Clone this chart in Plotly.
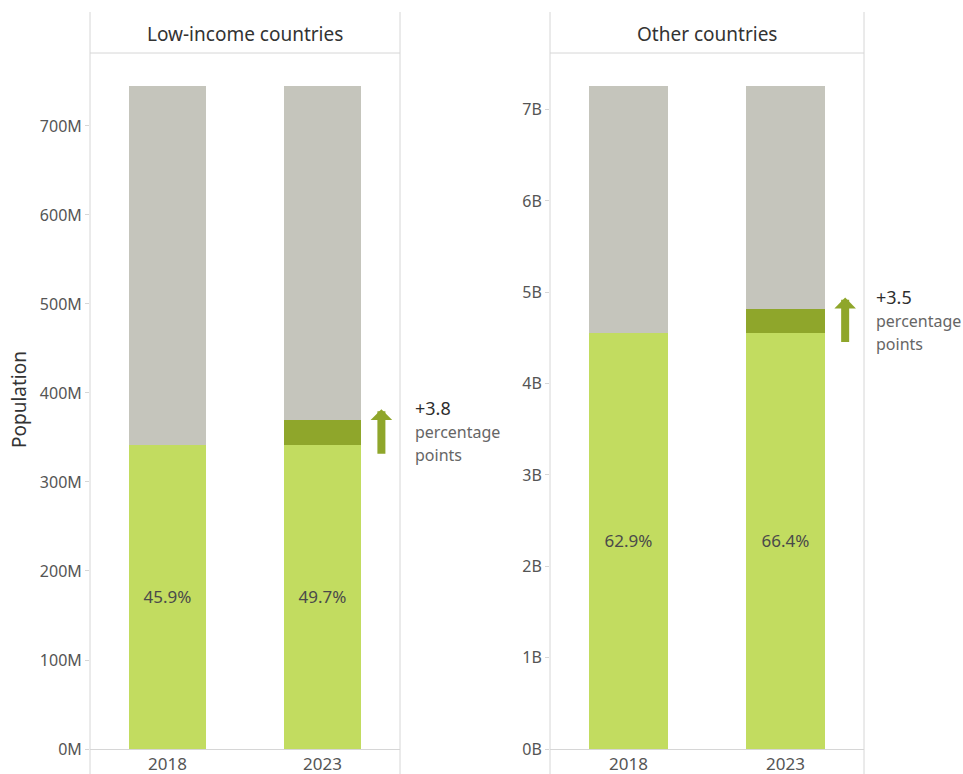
import plotly.graph_objects as go

W, H = 963, 774

years = ["2018", "2023"]
panels = ["Low-income countries", "Other countries"]

# Low-income countries (millions)
low_light = [342, 342]
low_dark = [0, 28]
low_grey = [403, 375]
low_pct = ["45.9%", "49.7%"]

# Other countries (billions)
oth_light = [4.56, 4.56]
oth_dark = [0, 0.26]
oth_grey = [2.70, 2.44]
oth_pct = ["62.9%", "66.4%"]

changes = ["+3.8", "+3.5"]

low_ticks = [0, 100, 200, 300, 400, 500, 600, 700]
low_ticktext = ["0M", "100M", "200M", "300M", "400M", "500M", "600M", "700M"]
oth_ticks = [0, 1, 2, 3, 4, 5, 6, 7]
oth_ticktext = ["0B", "1B", "2B", "3B", "4B", "5B", "6B", "7B"]

C_LIGHT = "#c2dc60"
C_DARK = "#8fa62b"
C_GREY = "#c5c5bc"
C_LINE = "#d6d6d6"
FONT = "Noto Sans"

fig = go.Figure()

def add_panel(light, dark, grey, pct, xa, ya):
    fig.add_trace(go.Bar(x=years, y=light, marker_color=C_LIGHT, marker_line_width=0, text=pct,
                         textposition="inside", insidetextanchor="middle",
                         textangle=0, constraintext="none",
                         textfont=dict(size=17, color="#4a4a4a", family=FONT),
                         xaxis=xa, yaxis=ya, hoverinfo="skip", showlegend=False))
    fig.add_trace(go.Bar(x=years, y=dark, marker_color=C_DARK, marker_line_width=0,
                         xaxis=xa, yaxis=ya, hoverinfo="skip", showlegend=False))
    fig.add_trace(go.Bar(x=years, y=grey, marker_color=C_GREY, marker_line_width=0,
                         xaxis=xa, yaxis=ya, hoverinfo="skip", showlegend=False))

add_panel(low_light, low_dark, low_grey, low_pct, "x", "y")
add_panel(oth_light, oth_dark, oth_grey, oth_pct, "x2", "y2")

def px(v):
    return v / W

def py(v):
    return (H - v) / H

ydom = [py(749), py(53)]
axis_common = dict(showgrid=False, zeroline=False, fixedrange=True, automargin=False)

fig.update_layout(
    template="none",
    width=W, height=H,
    margin=dict(l=0, r=0, t=0, b=0, pad=0),
    paper_bgcolor="white", plot_bgcolor="white",
    barmode="stack", bargap=0.5,
    font=dict(family=FONT, color="#555"),
    xaxis=dict(type="category", domain=[px(90), px(400)], anchor="y", showline=True, linecolor=C_LINE,
               linewidth=1, ticks="", tickfont=dict(size=17, color="#555"),
               range=[-0.5, 1.5], **axis_common),
    xaxis2=dict(type="category", domain=[px(550), px(864)], anchor="y2", showline=True, linecolor=C_LINE,
                linewidth=1, ticks="", tickfont=dict(size=17, color="#555"),
                range=[-0.5, 1.5], **axis_common),
    yaxis=dict(domain=ydom, anchor="x", range=[0, 782], tickvals=low_ticks, ticktext=low_ticktext,
               ticks="outside", ticklen=4, tickcolor=C_LINE, showline=False,
               tickfont=dict(size=16, color="#555"), **axis_common),
    yaxis2=dict(domain=ydom, anchor="x2", range=[0, 7.62], tickvals=oth_ticks, ticktext=oth_ticktext,
                ticks="outside", ticklen=4, tickcolor=C_LINE, showline=False,
                tickfont=dict(size=16, color="#555"), **axis_common),
)

shapes = []
for x0, x1 in [(90, 400), (550, 864)]:
    for xv in (x0, x1):
        shapes.append(dict(type="line", xref="paper", yref="paper", x0=px(xv), x1=px(xv),
                           y0=0, y1=py(12), line=dict(color=C_LINE, width=1)))
    shapes.append(dict(type="line", xref="paper", yref="paper", x0=px(x0), x1=px(x1),
                       y0=py(53), y1=py(53), line=dict(color=C_LINE, width=1)))
fig.update_layout(shapes=shapes)

annotations = []
for title, (x0, x1) in zip(panels, [(90, 400), (550, 864)]):
    annotations.append(dict(text=title, xref="paper", yref="paper", x=px((x0 + x1) / 2),
                            y=py(34), showarrow=False, xanchor="center", yanchor="middle",
                            font=dict(size=19, color="#333", family=FONT)))

annotations.append(dict(text="Population", xref="paper", yref="paper", x=px(19), y=py(400),
                        showarrow=False, textangle=-90, xanchor="center", yanchor="middle",
                        font=dict(size=19, color="#333", family=FONT)))

for light, dark, ch, xr, yr, xs in [(low_light, low_dark, changes[0], "x", "y", 13),
                                     (oth_light, oth_dark, changes[1], "x2", "y2", 10)]:
    mid = light[1] + dark[1] / 2
    annotations.append(dict(x=1.38, y=mid, xref=xr, yref=yr, text="", showarrow=True,
                            ax=0, ay=46, yshift=23, arrowhead=1, arrowsize=0.45, arrowwidth=8,
                            arrowcolor=C_DARK, standoff=0, startstandoff=0))
    annotations.append(dict(x=1.5, y=mid, xref=xr, yref=yr, text=ch, showarrow=False,
                            xanchor="left", yanchor="middle", xshift=xs, yshift=24,
                            font=dict(size=18, color="#2e2e2e", family=FONT)))
    annotations.append(dict(x=1.5, y=mid, xref=xr, yref=yr, text="percentage", showarrow=False,
                            xanchor="left", yanchor="middle", xshift=xs, yshift=0,
                            font=dict(size=16, color="#666", family=FONT)))
    annotations.append(dict(x=1.5, y=mid, xref=xr, yref=yr, text="points", showarrow=False,
                            xanchor="left", yanchor="middle", xshift=xs, yshift=-23,
                            font=dict(size=16, color="#666", family=FONT)))
fig.update_layout(annotations=annotations)

fig.write_html("out.html", config={"displayModeBar": False},
               post_script="document.body.style.margin='0';document.body.style.overflow='hidden';")
